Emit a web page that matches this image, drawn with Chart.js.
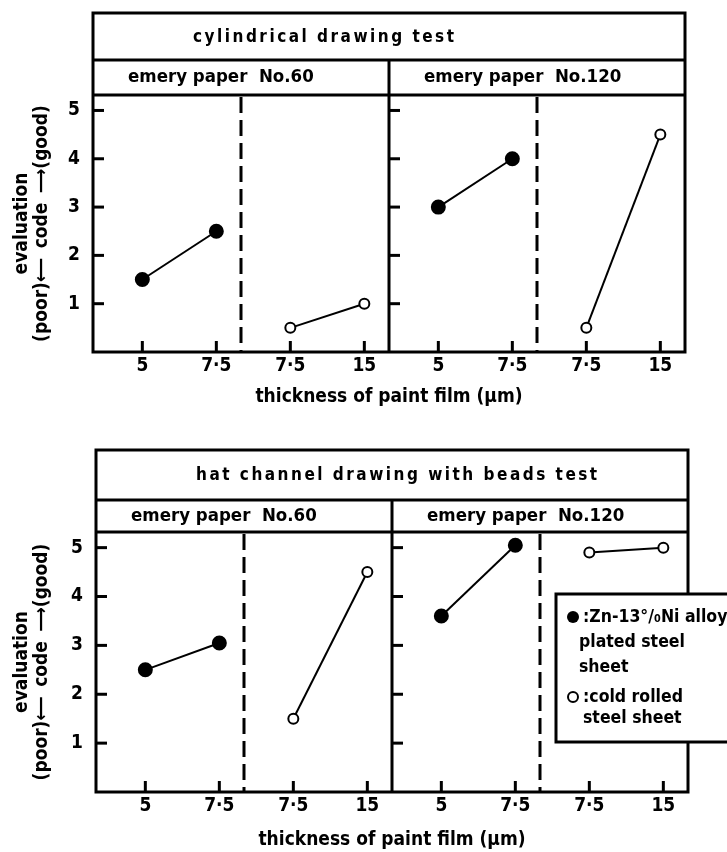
<!DOCTYPE html>
<html>
<head>
<meta charset="utf-8">
<script src="https://cdn.jsdelivr.net/npm/chart.js@4/dist/chart.umd.min.js"></script>
<style>
  html, body { margin: 0; padding: 0; background: #fff; }
  canvas { display: block; }
</style>
</head>
<body>
<canvas id="cylChart" width="727" height="420"></canvas>
<canvas id="hatChart" width="727" height="432"></canvas>
<script>
// thickness of paint film per emery paper: first two = Zn-Ni plated, last two = cold rolled
const thicknessLabels = ['5', '7·5', '7·5', '15'];
const paperLabels = ['emery paper  No.60', 'emery paper  No.120'];
const evalTicks = [1, 2, 3, 4, 5];

// cylindrical drawing test
const cylZnNi60 = [1.5, 2.5];
const cylCold60 = [0.5, 1.0];
const cylZnNi120 = [3.0, 4.0];
const cylCold120 = [0.5, 4.5];

// hat channel drawing with beads test
const hatZnNi60 = [2.5, 3.05];
const hatCold60 = [1.5, 4.5];
const hatZnNi120 = [3.6, 5.05];
const hatCold120 = [4.9, 5.0];

const legendZnNi = [':Zn-13°/\u2080Ni alloy', 'plated steel', 'sheet'];
const legendCold = [':cold rolled', 'steel sheet'];

const FONT = "'Liberation Sans Narrow', 'DejaVu Sans Condensed', 'Liberation Sans', sans-serif";

// category slot -> position on the 0..12 x scale (two panels of 6)
const slotX = (panel, slot) => panel * 6 + 1 + 1.5 * slot;
const tickValues = [0, 1].flatMap(p => [0, 1, 2, 3].map(s => slotX(p, s)));

function pts(panel, first, values) {
    return values.map((v, i) => ({ x: slotX(panel, first + i), y: v }));
}

function series(data, filled) {
    return {
        data: data,
        borderColor: '#000',
        borderWidth: 2,
        pointRadius: filled ? 6.5 : 5,
        pointHoverRadius: filled ? 6.5 : 5,
        pointBackgroundColor: filled ? '#000' : '#fff',
        pointBorderColor: '#000',
        pointBorderWidth: 2,
        clip: false
    };
}

const framePlugin = {
    id: 'frame',
    beforeDatasetsDraw(chart, args, opts) {
        const { ctx, chartArea: a, scales: { x, y } } = chart;
        const line = (x1, y1, x2, y2) => { ctx.beginPath(); ctx.moveTo(x1, y1); ctx.lineTo(x2, y2); ctx.stroke(); };
        const subTop = a.top - opts.subH;
        const titleTop = subTop - opts.titleH;
        ctx.save();
        ctx.strokeStyle = '#000';
        ctx.lineWidth = 3;
        ctx.lineCap = 'butt';
        ctx.strokeRect(a.left, titleTop, a.right - a.left, a.bottom - titleTop);
        line(a.left, subTop, a.right, subTop);
        line(a.left, a.top, a.right, a.top);
        const mid = x.getPixelForValue(6);
        line(mid, subTop, mid, a.bottom);
        // inner ticks
        [0, 6].forEach(v => {
            const px = x.getPixelForValue(v);
            evalTicks.forEach(t => line(px, y.getPixelForValue(t), px + 11, y.getPixelForValue(t)));
        });
        tickValues.forEach(v => {
            const px = x.getPixelForValue(v);
            line(px, a.bottom, px, a.bottom - 11);
        });
        // dashed separators
        ctx.setLineDash([16, 7]);
        [3, 9].forEach(v => {
            const px = x.getPixelForValue(v);
            line(px, a.top + 2, px, a.bottom);
        });
        ctx.setLineDash([]);
        // titles
        ctx.fillStyle = '#000';
        ctx.textBaseline = 'middle';
        ctx.textAlign = 'left';
        ctx.font = 'bold 17px ' + FONT;
        ctx.letterSpacing = '2.5px';
        ctx.fillText(opts.title, a.left + 100, titleTop + opts.titleH / 2 + 1);
        ctx.letterSpacing = '0px';
        ctx.font = 'bold 18.5px ' + FONT;
        ctx.fillText(paperLabels[0], a.left + 35, subTop + opts.subH / 2);
        ctx.fillText(paperLabels[1], mid + 35, subTop + opts.subH / 2);
        ctx.restore();
    },
    afterDatasetsDraw(chart, args, opts) {
        if (!opts.legend) return;
        const { ctx } = chart;
        const L = opts.legend;
        ctx.save();
        ctx.fillStyle = '#fff';
        ctx.fillRect(L.left, L.top, L.width, L.height);
        ctx.strokeStyle = '#000';
        ctx.lineWidth = 3;
        ctx.strokeRect(L.left, L.top, L.width, L.height);
        ctx.fillStyle = '#000';
        ctx.font = 'bold 17.5px ' + FONT;
        ctx.textBaseline = 'middle';
        ctx.textAlign = 'left';
        const lh = 25;
        let yy = L.top + 23;
        ctx.beginPath(); ctx.arc(L.left + 17, yy, 6, 0, Math.PI * 2); ctx.fill();
        legendZnNi.forEach((t, i) => ctx.fillText(t, L.left + (i === 0 ? 27 : 23), yy + i * lh));
        yy += legendZnNi.length * lh + 5;
        ctx.lineWidth = 2;
        ctx.beginPath(); ctx.arc(L.left + 17, yy, 5, 0, Math.PI * 2); ctx.stroke();
        legendCold.forEach((t, i) => ctx.fillText(t, L.left + 27, yy + i * (lh - 4)));
        ctx.restore();
    }
};

function makeChart(id, cfg) {
    return new Chart(document.getElementById(id), {
        type: 'line',
        data: {
            datasets: [
                series(pts(0, 0, cfg.zn60), true),
                series(pts(0, 2, cfg.cold60), false),
                series(pts(1, 0, cfg.zn120), true),
                series(pts(1, 2, cfg.cold120), false)
            ]
        },
        options: {
            responsive: false,
            animation: false,
            devicePixelRatio: 1,
            layout: { padding: { top: cfg.padTop, right: cfg.padRight, left: 0, bottom: 0 } },
            plugins: {
                legend: { display: false },
                tooltip: { enabled: false },
                frame: { title: cfg.title, titleH: cfg.titleH, subH: cfg.subH, legend: cfg.legend }
            },
            scales: {
                x: {
                    type: 'linear',
                    min: 0,
                    max: 12,
                    grid: { display: false, drawTicks: false },
                    border: { display: false },
                    afterBuildTicks: s => { s.ticks = tickValues.map(v => ({ value: v })); },
                    afterFit: s => { s.height = cfg.xHeight; },
                    ticks: {
                        autoSkip: false,
                        maxRotation: 0,
                        padding: 3,
                        color: '#000',
                        font: { family: FONT, size: 19, weight: 'bold' },
                        callback: v => thicknessLabels[tickValues.indexOf(v) % 4]
                    },
                    title: {
                        display: true,
                        text: 'thickness of paint film (\u03bcm)',
                        color: '#000',
                        font: { family: FONT, size: 19, weight: 'bold' },
                        padding: { top: 0, bottom: cfg.xTitlePad }
                    }
                },
                y: {
                    min: 0,
                    max: 5.32,
                    grid: { display: false, drawTicks: false },
                    border: { display: false },
                    afterBuildTicks: s => { s.ticks = evalTicks.map(v => ({ value: v })); },
                    afterFit: s => { s.width = cfg.yWidth; },
                    ticks: {
                        padding: 13,
                        color: '#000',
                        font: { family: FONT, size: 19, weight: 'bold' }
                    },
                    title: {
                        display: true,
                        text: ['evaluation', '(poor)\u27f5 \u2009code\u2009 \u27f6(good)'],
                        color: '#000',
                        font: { family: FONT, size: 19, weight: 'bold', lineHeight: 1.05 },
                        padding: { top: 12, bottom: 0 }
                    }
                }
            }
        },
        plugins: [framePlugin]
    });
}

makeChart('cylChart', {
    title: 'cylindrical drawing test',
    zn60: cylZnNi60, cold60: cylCold60, zn120: cylZnNi120, cold120: cylCold120,
    padTop: 95, padRight: 42, yWidth: 93, xHeight: 68, xTitlePad: 12,
    titleH: 47, subH: 35, legend: null
});

makeChart('hatChart', {
    title: 'hat channel drawing with beads test',
    zn60: hatZnNi60, cold60: hatCold60, zn120: hatZnNi120, cold120: hatCold120,
    padTop: 112, padRight: 39, yWidth: 96, xHeight: 60, xTitlePad: 1,
    titleH: 50, subH: 32,
    legend: { left: 556, top: 174, width: 180, height: 148 }
});
</script>
</body>
</html>
